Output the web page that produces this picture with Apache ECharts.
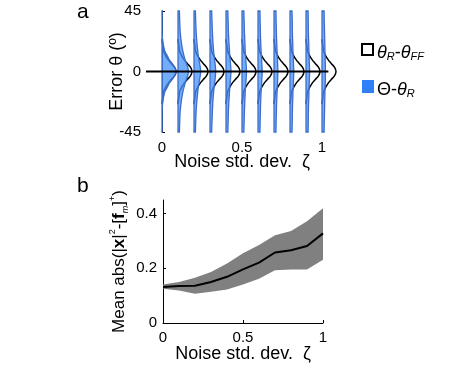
<!DOCTYPE html>
<html>
<head>
<meta charset="utf-8">
<script src="https://cdn.jsdelivr.net/npm/echarts@6/dist/echarts.min.js"></script>
<style>
  html, body { margin: 0; background: #fff; }
  #chart { width: 452px; height: 368px; }
</style>
</head>
<body>
<div id="chart"></div>
<script>
// noise levels (x positions of the violins and of the curve in b)
const noise = [0, 0.1, 0.2, 0.3, 0.4, 0.5, 0.6, 0.7, 0.8, 0.9, 1];

// theta_R - theta_FF density (same for every noise level), relative to peak
const blackAngles = [-24, -20, -15, -12, -9, -6, -3, 0, 3, 6, 9, 12, 15, 20, 24];
const blackDensity = [0, 0.05, 0.12, 0.25, 0.42, 0.66, 0.9, 1, 0.9, 0.66, 0.42, 0.25, 0.12, 0.05, 0];

// Theta - theta_R density per noise level, half profile (mirrored around 0)
const blueAngles = [0, 3, 6, 9, 12, 15, 20, 25, 30, 38, 45];
const blueDensity = [
  [1.07, 0.9, 0.72, 0.5, 0.36, 0.2, 0.09, 0.03, 0.01, 0.01, 0.01],
  [0.76, 0.7, 0.6, 0.5, 0.42, 0.35, 0.26, 0.2, 0.15, 0.12, 0.1],
  [0.48, 0.45, 0.4, 0.35, 0.3, 0.27, 0.22, 0.18, 0.15, 0.12, 0.1],
  [0.41, 0.39, 0.36, 0.32, 0.29, 0.26, 0.22, 0.19, 0.17, 0.14, 0.12],
  [0.36, 0.34, 0.32, 0.29, 0.27, 0.25, 0.22, 0.19, 0.17, 0.15, 0.13],
  [0.32, 0.31, 0.29, 0.27, 0.25, 0.23, 0.21, 0.19, 0.17, 0.15, 0.13],
  [0.3, 0.29, 0.27, 0.26, 0.24, 0.22, 0.2, 0.18, 0.17, 0.15, 0.14],
  [0.28, 0.27, 0.26, 0.25, 0.23, 0.22, 0.2, 0.18, 0.17, 0.15, 0.14],
  [0.27, 0.26, 0.25, 0.24, 0.23, 0.21, 0.2, 0.18, 0.17, 0.16, 0.14],
  [0.26, 0.25, 0.24, 0.23, 0.22, 0.21, 0.2, 0.18, 0.17, 0.16, 0.15],
  [0.25, 0.24, 0.24, 0.23, 0.22, 0.21, 0.2, 0.19, 0.18, 0.16, 0.15]
];

// panel b: mean abs error with spread
const meanErr = [0.132, 0.135, 0.136, 0.15, 0.169, 0.196, 0.221, 0.258, 0.266, 0.282, 0.328];
const upperErr = [0.141, 0.15, 0.166, 0.187, 0.218, 0.255, 0.285, 0.321, 0.337, 0.372, 0.42];
const lowerErr = [0.125, 0.119, 0.107, 0.114, 0.123, 0.141, 0.162, 0.193, 0.196, 0.196, 0.231];

const errTicks = [-45, 0, 45];
const noiseTicks = [0, 0.5, 1];
const meanTicks = [0, 0.2, 0.4];

const VIOLIN_W = 0.0875; // zeta units per unit density
const font = "'Liberation Sans', Arial, sans-serif";
const tickText = { color: "#000", fontSize: 15, fontFamily: font };
const titleText = { fontSize: 18, fontFamily: font, color: "#000" };

const chart = echarts.init(document.getElementById("chart"));

function blueItem(params, api) {
  const k = params.dataIndex;
  const z = noise[k];
  const d = blueDensity[k];
  const pts = [api.coord([z, -45])];
  for (let i = blueAngles.length - 1; i >= 0; i--) pts.push(api.coord([z + d[i] * VIOLIN_W, -blueAngles[i]]));
  for (let i = 1; i < blueAngles.length; i++) pts.push(api.coord([z + d[i] * VIOLIN_W, blueAngles[i]]));
  pts.push(api.coord([z, 45]));
  return {
    type: "polygon",
    shape: { points: pts },
    style: { fill: "rgba(70,145,250,0.75)", stroke: "#3c6fcc", lineWidth: 1.3 }
  };
}

function blackItem(params, api) {
  const z = noise[params.dataIndex];
  const pts = blackAngles.map((a, i) => api.coord([z + blackDensity[i] * VIOLIN_W, a]));
  return {
    type: "polyline",
    shape: { points: pts, smooth: 0.4 },
    style: { fill: null, stroke: "#000", lineWidth: 1.5 }
  };
}

function bandItem(params, api) {
  const pts = [];
  noise.forEach((z, i) => pts.push(api.coord([z, upperErr[i]])));
  for (let i = noise.length - 1; i >= 0; i--) pts.push(api.coord([noise[i], lowerErr[i]]));
  return { type: "polygon", shape: { points: pts }, style: { fill: "#808080" } };
}

const legendRich = {
  i: { fontSize: 18, fontStyle: "italic", fontFamily: font, color: "#000", lineHeight: 24, verticalAlign: "bottom" },
  n: { fontSize: 18, fontFamily: font, color: "#000", lineHeight: 24, verticalAlign: "bottom" },
  s: { fontSize: 11, fontStyle: "italic", fontFamily: font, color: "#000", lineHeight: 18, verticalAlign: "bottom" }
};

chart.setOption({
  animation: false,
  grid: [
    { left: 146, top: 11, width: 192, height: 121 },
    { left: 163, top: 200, width: 160, height: 123 }
  ],
  xAxis: [
    {
      gridIndex: 0, type: "value", min: -0.1, max: 1.1,
      axisLine: { show: false }, axisTick: { show: false }, splitLine: { show: false },
      axisLabel: { ...tickText, margin: 8, customValues: noiseTicks },
      name: "Noise std. dev.  ζ", nameLocation: "middle", nameGap: 21, nameMoveOverlap: false,
      nameTextStyle: titleText
    },
    {
      gridIndex: 1, type: "value", min: 0, max: 1,
      axisLine: { lineStyle: { color: "#000", width: 1 } },
      axisTick: { inside: true, length: 3, customValues: noiseTicks, lineStyle: { color: "#000" } },
      splitLine: { show: false },
      axisLabel: { ...tickText, margin: 7, customValues: noiseTicks },
      name: "Noise std. dev.  ζ", nameLocation: "middle", nameGap: 22, nameMoveOverlap: false,
      nameTextStyle: titleText
    }
  ],
  yAxis: [
    {
      gridIndex: 0, type: "value", min: -45, max: 45,
      axisLine: { show: true, lineStyle: { color: "#000", width: 1 } },
      axisTick: { show: true, inside: true, length: 3, customValues: errTicks, lineStyle: { color: "#000" } },
      splitLine: { show: false },
      axisLabel: { ...tickText, margin: 5, customValues: errTicks },
      name: "Error θ (º)", nameLocation: "middle", nameGap: 20, nameRotate: 90, nameMoveOverlap: false,
      nameTextStyle: titleText
    },
    {
      gridIndex: 1, type: "value", min: 0, max: 0.45,
      axisLine: { show: true, lineStyle: { color: "#000", width: 1 } },
      axisTick: { show: true, inside: true, length: 3, customValues: meanTicks, lineStyle: { color: "#000" } },
      splitLine: { show: false },
      axisLabel: { ...tickText, margin: 6, customValues: meanTicks },
      name: "{n|Mean abs(|}{b|x}{n||}{p|2}{n|-[}{b|f}{s|m}{n|]}{p|+}{n|)}",
      nameLocation: "middle", nameGap: 33, nameRotate: 90, nameMoveOverlap: false,
      nameTextStyle: {
        ...titleText,
        rich: {
          n: { fontSize: 17, fontFamily: font, color: "#000", lineHeight: 22, verticalAlign: "middle" },
          b: { fontSize: 17, fontWeight: "bold", fontFamily: font, color: "#000", lineHeight: 22, verticalAlign: "middle" },
          p: { fontSize: 9, fontFamily: font, color: "#000", lineHeight: 22, verticalAlign: "top", padding: [0, 0, 10, 0] },
          s: { fontSize: 9, fontStyle: "italic", fontFamily: font, color: "#000", lineHeight: 22, verticalAlign: "bottom", padding: [8, 0, 0, 0] }
        }
      }
    }
  ],
  series: [
    {
      name: "black", type: "custom", xAxisIndex: 0, yAxisIndex: 0, z: 2,
      renderItem: blackItem, data: noise.map((z) => [z, 0]), encode: { x: 0, y: 1 }
    },
    {
      name: "blue", type: "custom", xAxisIndex: 0, yAxisIndex: 0, z: 3,
      renderItem: blueItem, data: noise.map((z) => [z, 0]), encode: { x: 0, y: 1 }
    },
    {
      name: "zero", type: "line", xAxisIndex: 0, yAxisIndex: 0, z: 4,
      data: [[-0.1, 0], [1.04, 0]], symbol: "none",
      lineStyle: { color: "#000", width: 2 }
    },
    {
      name: "spread", type: "custom", xAxisIndex: 1, yAxisIndex: 1, z: 2,
      renderItem: bandItem, data: [[0, 0]], encode: { x: 0, y: 1 }
    },
    {
      name: "mean", type: "line", xAxisIndex: 1, yAxisIndex: 1, z: 5,
      data: noise.map((z, i) => [z, meanErr[i]]), symbol: "none",
      lineStyle: { color: "#000", width: 2 }
    }
  ],
  graphic: [
    { type: "text", left: 77, top: 2, style: { text: "a", fontSize: 21, fontFamily: font, fill: "#000" } },
    { type: "text", left: 77, top: 176, style: { text: "b", fontSize: 21, fontFamily: font, fill: "#000" } },
    { type: "rect", shape: { x: 362, y: 44, width: 11, height: 11 }, style: { fill: "#fff", stroke: "#000", lineWidth: 2 } },
    {
      type: "text", x: 377, y: 38,
      style: { text: "{i|θ}{s|R}{n|-}{i|θ}{s|FF}", rich: legendRich }
    },
    { type: "rect", shape: { x: 362, y: 80, width: 12, height: 13 }, style: { fill: "#2f80f8" } },
    {
      type: "text", x: 377, y: 75,
      style: { text: "{n|Θ-}{i|θ}{s|R}", rich: legendRich }
    }
  ]
});
</script>
</body>
</html>
